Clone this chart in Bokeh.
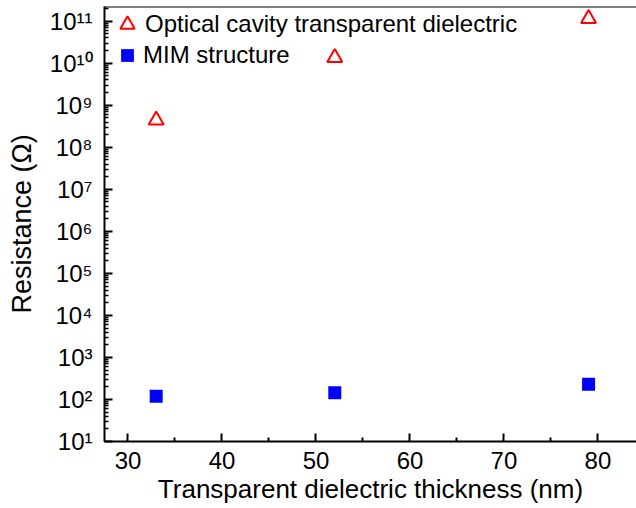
from bokeh.plotting import figure
from bokeh.models import Range1d, FixedTicker, Span, Legend, LegendItem
from bokeh.embed import file_html
from bokeh.resources import INLINE

# ---- data ----
thickness_nm = [33, 52, 79]
optical_cavity = [4.4e8, 1.35e10, 1.15e11]
mim_structure = [120, 145, 230]

x_ticks = [30, 40, 50, 60, 70, 80]
x_minor_ticks = [35, 45, 55, 65, 75]
y_exponents = [1, 2, 3, 4, 5, 6, 7, 8, 9, 10, 11]

SUP = str.maketrans("0123456789", "⁰¹²³⁴⁵⁶⁷⁸⁹")
FONT = "Liberation Sans"

X0, X1 = 27.5, 84.1
Y0, Y1 = 10, 2.24e11

p = figure(width=636, height=508, y_axis_type="log",
           x_range=Range1d(X0, X1), y_range=Range1d(Y0, Y1),
           output_backend="svg", toolbar_location=None,
           min_border_left=104, min_border_right=0,
           min_border_top=6, min_border_bottom=67)
p.outline_line_color = None
p.grid.visible = False

r1 = p.scatter(thickness_nm, optical_cavity, marker="triangle", size=15,
               fill_color=None, line_color="#FF0000", line_width=2)
r2 = p.scatter(thickness_nm, mim_structure, marker="square", size=13,
               fill_color="#0000FF", line_color=None)

# x axis
xa = p.xaxis[0]
xa.ticker = FixedTicker(ticks=x_ticks, minor_ticks=x_minor_ticks)
xa.axis_label = "Transparent dielectric thickness (nm)"

# y axis
ya = p.yaxis[0]
y_major = [10.0 ** e for e in y_exponents]
y_minor = [k * 10.0 ** e for e in y_exponents for k in range(2, 10) if k * 10.0 ** e <= Y1]
ya.ticker = FixedTicker(ticks=y_major, minor_ticks=y_minor)
ya.major_label_overrides = {10.0 ** e: "10" + str(e).translate(SUP) for e in y_exponents}
ya.axis_label = "Resistance (Ω)"

for ax in (xa, ya):
    ax.axis_line_width = 2
    ax.axis_line_color = "black"
    ax.major_tick_in = 8
    ax.major_tick_out = 0
    ax.minor_tick_in = 4
    ax.minor_tick_out = 0
    ax.major_tick_line_width = 2
    ax.minor_tick_line_width = 1.5
    ax.major_tick_line_color = "#000000"
    ax.minor_tick_line_color = "#000000"
    ax.major_label_text_font = FONT
    ax.major_label_text_font_size = "24px"
    ax.major_label_text_color = "black"
    ax.axis_label_text_font = FONT
    ax.axis_label_text_font_style = "normal"
    ax.axis_label_text_color = "black"

xa.minor_tick_line_width = 2
xa.axis_label_text_font_size = "26px"
ya.axis_label_text_font_size = "27px"
xa.major_label_standoff = 10
xa.axis_label_standoff = 2
ya.major_label_standoff = 12
ya.axis_label_standoff = 10

# top frame line
p.add_layout(Span(location=Y1, dimension="width", line_color="black", line_width=2))

# legends (one per entry so that marker size and row spacing are independent)
def make_legend(label, renderer, glyph, loc):
    lg = Legend(items=[LegendItem(label=label, renderers=[renderer])], location=loc)
    lg.label_text_font = FONT
    lg.label_text_font_size = "24px"
    lg.label_text_color = "black"
    lg.glyph_width = glyph
    lg.glyph_height = glyph
    lg.label_standoff = 0
    lg.margin = 0
    lg.padding = 0
    lg.border_line_color = None
    lg.background_fill_alpha = 0
    return lg

p.add_layout(make_legend("Optical cavity transparent dielectric", r1, 36, (5, 399)))
p.add_layout(make_legend("MIM structure", r2, 32, (7, 370)))

open("out.html", "w").write(file_html(p, INLINE))
